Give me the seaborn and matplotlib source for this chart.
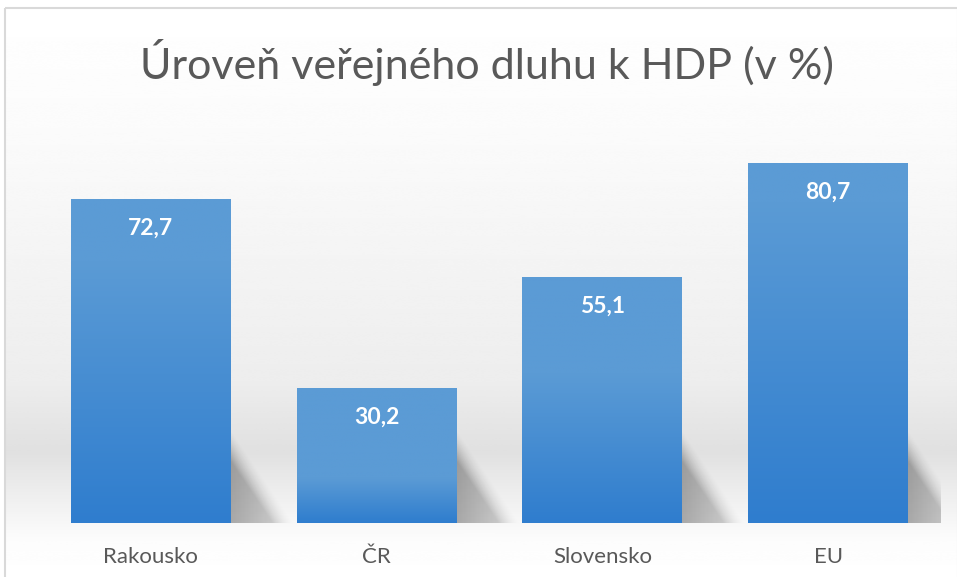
import matplotlib
matplotlib.use("Agg")
import matplotlib.pyplot as plt
import seaborn as sns
import numpy as np
import pandas as pd
from matplotlib.colors import LinearSegmentedColormap
from matplotlib.patches import Rectangle

# data
countries = ["Rakousko", "ČR", "Slovensko", "EU"]
debt_pct = [72.7, 30.2, 55.1, 80.7]
title = "Úroveň veřejného dluhu k HDP (v %)"

df = pd.DataFrame({"country": countries, "debt": debt_pct})

sns.set_theme(style="white")
plt.rcParams["font.family"] = ["Lato", "DejaVu Sans"]

W, H = 957, 577
fig = plt.figure(figsize=(W / 100, H / 100), dpi=100)
fig.patch.set_facecolor("white")

# background panel with soft floor gradient
bg = fig.add_axes([0, 0, 1, 1], zorder=0)
bg.set_xlim(0, W)
bg.set_ylim(H, 0)
bg.axis("off")
ys = np.linspace(0, H, 400)
shade = np.interp(ys, [0, 120, 380, 450, 490, 540, H], [1.0, 0.985, 0.93, 0.88, 0.93, 0.99, 1.0])
grad = np.repeat(shade[:, None], 2, axis=1)
bg.imshow(grad, extent=[5, W, H, 8], cmap="gray", vmin=0, vmax=1, aspect="auto",
          interpolation="bicubic")
bg.add_patch(Rectangle((5, 8), W - 4, H, fill=False, edgecolor="#d9d9d9", lw=1.5))

# main axes: y=0 at pixel 523, ylim top at 90
y0_px, px_per_unit = 523, 4.457
top_px = y0_px - 90 * px_per_unit
ax = fig.add_axes([38 / W, 1 - y0_px / H, (941 - 38) / W, (y0_px - top_px) / H], zorder=2)
ax.patch.set_alpha(0)

sns.barplot(data=df, x="country", y="debt", color="#3d85cf", width=0.708,
            saturation=1, linewidth=0, ax=ax)
ax.set_ylim(0, 90)
ax.set_xlim(-0.5, 3.5)

bars = [p for p in ax.patches if isinstance(p, Rectangle)]

# soft wedge shadow to the right of each bar base
sw, sh = 0.28, 21.0
uu, vv = np.meshgrid(np.linspace(0, 1, 120), np.linspace(0, 1, 120))
edge = np.clip((1 - uu - vv) / 0.35, 0, 1)
alpha = 0.32 * edge ** 1.5 * np.clip(1 - uu * 0.6, 0, 1)
rgba = np.zeros((120, 120, 4))
rgba[..., 3] = alpha
for p in bars:
    x1 = p.get_x() + p.get_width()
    ax.imshow(rgba, extent=[x1, x1 + sw, 0, sh], origin="lower", aspect="auto",
              zorder=1, interpolation="bilinear")

# vertical gradient on the bars
cmap = LinearSegmentedColormap.from_list("bar", ["#2f7dce", "#5b9bd5"])
for p in bars:
    x, w, hgt = p.get_x(), p.get_width(), p.get_height()
    g = np.linspace(0, 1, 256)[:, None]
    g = np.clip(g * 90 / hgt, 0, 1)
    im = ax.imshow(g, extent=[x, x + w, 0, hgt], origin="lower", cmap=cmap,
                   aspect="auto", zorder=3, vmin=0, vmax=1)
    im.set_clip_path(p)
    p.set_zorder(2)
ax.set_xlim(-0.5, 3.5)
ax.set_ylim(0, 90)

for i, v in enumerate(debt_pct):
    ax.text(i, v - 6.5, f"{v:.1f}".replace(".", ","), ha="center", va="center",
            color="white", fontsize=16.5, fontweight="bold", zorder=5)

ax.set_xlabel("")
ax.set_ylabel("")
ax.set_yticks([])
ax.tick_params(axis="x", length=0, pad=17, labelsize=16, labelcolor="#595959")
sns.despine(ax=ax, left=True, bottom=True)

fig.text(487 / W, 1 - 62 / H, title, ha="center", va="center", fontsize=31,
         color="#595959")

fig.savefig("out.png", dpi=100)
